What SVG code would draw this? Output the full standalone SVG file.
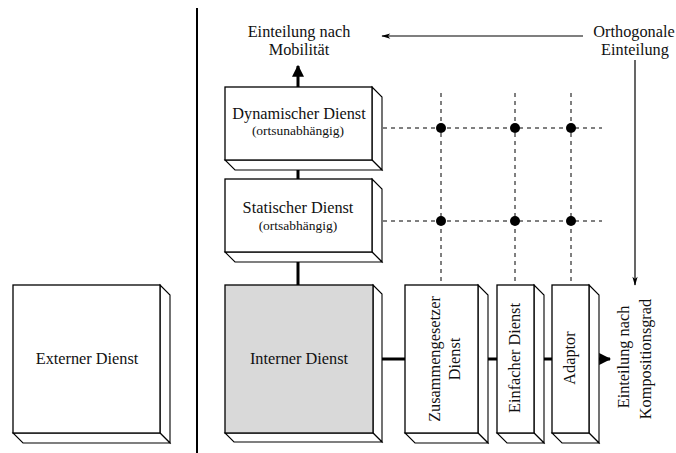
<svg xmlns="http://www.w3.org/2000/svg" width="676" height="453" viewBox="0 0 676 453" font-family="'Liberation Serif', 'Times New Roman', serif">
  <defs>
    <style>
      text { font-family: 'Liberation Serif', 'Times New Roman', serif; fill: #111; }
      .lbl { font-size: 16.3px; text-anchor: middle; }
      .sub { font-size: 13.5px; text-anchor: middle; }
      .face { stroke: #000; stroke-width: 1.3; }
      .side { fill: #fff; stroke: #000; stroke-width: 1.1; }
      .thick { stroke: #000; stroke-width: 3; fill: none; }
      .thin { stroke: #000; stroke-width: 1.2; fill: none; }
      .dash { stroke: #000; stroke-width: 1; stroke-dasharray: 4 4; fill: none; }
      .dot { fill: #000; }
    </style>
    <marker id="arrowBold" viewBox="0 0 10 10" refX="9" refY="5" markerWidth="4" markerHeight="4" orient="auto" markerUnits="strokeWidth">
      <path d="M0,0 L10,5 L0,10 Z" fill="#000"/>
    </marker>
    <marker id="arrowThin" viewBox="0 0 12 8" refX="11" refY="4" markerWidth="10" markerHeight="6" orient="auto" markerUnits="userSpaceOnUse">
      <path d="M0,0.5 L12,4 L0,7.5 L3,4 Z" fill="#000"/>
    </marker>
  </defs>

  <!-- separator between external and internal services -->
  <line x1="197" y1="8" x2="197" y2="453" stroke="#000" stroke-width="2"/>

  <!-- grid of dashed lines with intersection dots -->
  <g id="grid">
    <line class="dash" x1="383" y1="128" x2="602" y2="128"/>
    <line class="dash" x1="383" y1="221" x2="602" y2="221"/>
    <line class="dash" x1="441" y1="93" x2="441" y2="285"/>
    <line class="dash" x1="515" y1="93" x2="515" y2="285"/>
    <line class="dash" x1="571" y1="93" x2="571" y2="285"/>
    <circle class="dot" cx="441" cy="128" r="5"/>
    <circle class="dot" cx="515" cy="128" r="5"/>
    <circle class="dot" cx="571" cy="128" r="5"/>
    <circle class="dot" cx="441" cy="221" r="5"/>
    <circle class="dot" cx="515" cy="221" r="5"/>
    <circle class="dot" cx="571" cy="221" r="5"/>
  </g>

  <!-- connectors -->
  <g id="connectors">
    <line class="thick" x1="298" y1="87" x2="298" y2="66" marker-end="url(#arrowBold)"/>
    <line class="thick" x1="298" y1="170" x2="298" y2="179"/>
    <line class="thick" x1="298" y1="262" x2="298" y2="285"/>
    <line class="thick" x1="382" y1="359" x2="405" y2="359"/>
    <line class="thick" x1="488" y1="359" x2="497" y2="359"/>
    <line class="thick" x1="544" y1="359" x2="552" y2="359"/>
    <line class="thick" x1="599" y1="359" x2="610" y2="359" marker-end="url(#arrowBold)"/>
    <line class="thin" x1="583" y1="36" x2="382" y2="36" marker-end="url(#arrowThin)"/>
    <line class="thin" x1="635" y1="60" x2="635" y2="285" marker-end="url(#arrowThin)"/>
  </g>

  <!-- axis labels -->
  <g id="label-mobility">
    <text class="lbl" x="299" y="37">Einteilung nach</text>
    <text class="lbl" x="299" y="55">Mobilität</text>
  </g>
  <g id="label-orthogonal">
    <text class="lbl" x="634" y="37">Orthogonale</text>
    <text class="lbl" x="635" y="55">Einteilung</text>
  </g>
  <g id="label-composition">
    <text class="lbl" transform="translate(629,357) rotate(-90)">Einteilung nach</text>
    <text class="lbl" transform="translate(651,359) rotate(-90)">Kompositionsgrad</text>
  </g>

  <!-- Externer Dienst -->
  <g id="externer-dienst">
    <polygon class="side" points="160,285 170,295 170,443 160,433"/>
    <polygon class="side" points="13,433 160,433 170,443 23,443"/>
    <rect class="face" x="13" y="285" width="147" height="148" fill="#fff"/>
    <text class="lbl" x="87" y="364">Externer Dienst</text>
  </g>

  <!-- Dynamischer Dienst -->
  <g id="dynamischer-dienst">
    <polygon class="side" points="372,87 382,97 382,170 372,160"/>
    <polygon class="side" points="225,160 372,160 382,170 235,170"/>
    <rect class="face" x="225" y="87" width="147" height="73" fill="#fff"/>
    <text class="lbl" x="299" y="119">Dynamischer Dienst</text>
    <text class="sub" x="298" y="135">(ortsunabhängig)</text>
  </g>

  <!-- Statischer Dienst -->
  <g id="statischer-dienst">
    <polygon class="side" points="372,179 382,189 382,262 372,252"/>
    <polygon class="side" points="225,252 372,252 382,262 235,262"/>
    <rect class="face" x="225" y="179" width="147" height="73" fill="#fff"/>
    <text class="lbl" x="298" y="213">Statischer Dienst</text>
    <text class="sub" x="298" y="230">(ortsabhängig)</text>
  </g>

  <!-- Interner Dienst -->
  <g id="interner-dienst">
    <polygon class="side" points="373,285 382,294 382,442 373,433" fill="#d9d9d9"/>
    <polygon class="side" points="225,433 373,433 382,442 234,442" fill="#d9d9d9"/>
    <rect class="face" x="225" y="285" width="148" height="148" fill="#d9d9d9"/>
    <text class="lbl" x="299" y="364">Interner Dienst</text>
  </g>

  <!-- Zusammengesetzer Dienst -->
  <g id="zusammengesetzer-dienst">
    <polygon class="side" points="478,285 488,295 488,443 478,433"/>
    <polygon class="side" points="405,433 478,433 488,443 415,443"/>
    <rect class="face" x="405" y="285" width="73" height="148" fill="#fff"/>
    <text class="lbl" transform="translate(440,359) rotate(-90)">Zusammengesetzer</text>
    <text class="lbl" transform="translate(460,359) rotate(-90)">Dienst</text>
  </g>

  <!-- Einfacher Dienst -->
  <g id="einfacher-dienst">
    <polygon class="side" points="534,285 544,295 544,443 534,433"/>
    <polygon class="side" points="497,433 534,433 544,443 507,443"/>
    <rect class="face" x="497" y="285" width="37" height="148" fill="#fff"/>
    <text class="lbl" transform="translate(520,358) rotate(-90)">Einfacher Dienst</text>
  </g>

  <!-- Adaptor -->
  <g id="adaptor">
    <polygon class="side" points="589,285 599,295 599,443 589,433"/>
    <polygon class="side" points="552,433 589,433 599,443 562,443"/>
    <rect class="face" x="552" y="285" width="37" height="148" fill="#fff"/>
    <text class="lbl" transform="translate(575,358) rotate(-90)">Adaptor</text>
  </g>
</svg>
